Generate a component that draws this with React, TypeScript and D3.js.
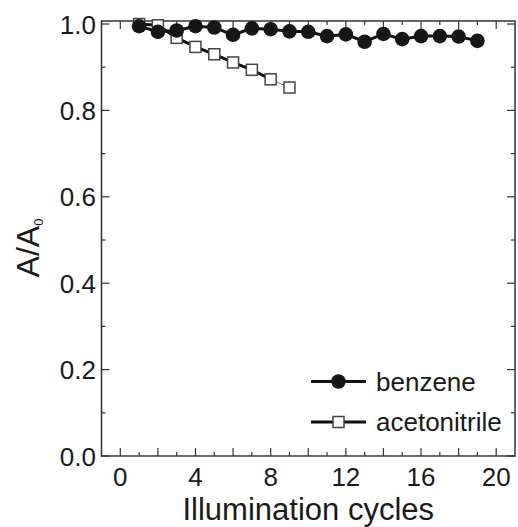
import React from "react";
import * as d3 from "d3";

const cycles = [1, 2, 3, 4, 5, 6, 7, 8, 9, 10, 11, 12, 13, 14, 15, 16, 17, 18, 19];
const benzene = [0.995, 0.982, 0.985, 0.995, 0.992, 0.975, 0.99, 0.988, 0.983, 0.982, 0.972, 0.976, 0.959, 0.977, 0.965, 0.972, 0.972, 0.971, 0.961];
const acetoCycles = [1, 2, 3, 4, 5, 6, 7, 8, 9];
const acetonitrile = [1.0, 0.997, 0.968, 0.947, 0.93, 0.911, 0.894, 0.872, 0.853];
const xTickLabels = [0, 4, 8, 12, 16, 20];
const yTickLabels = [0.0, 0.2, 0.4, 0.6, 0.8, 1.0];
const seriesNames = ["benzene", "acetonitrile"];

const W = 518;
const H = 527;
const L = 101.5;
const R = 515;
const T = 21;
const B = 456;
const FONT = "'Liberation Sans', Arial, Helvetica, sans-serif";

export default function App() {
  const x = d3.scaleLinear().domain([-1, 21]).range([L, R]);
  const y = d3.scaleLinear().domain([0, 1.007]).range([B, T]);
  const line = d3
    .line<[number, number]>()
    .x((d) => x(d[0]))
    .y((d) => y(d[1]));

  const bPts: [number, number][] = cycles.map((c, i) => [c, benzene[i]]);
  const aPts: [number, number][] = acetoCycles.map((c, i) => [c, acetonitrile[i]]);
  const aThick = aPts.slice(0, aPts.length - 1);
  const aThin = aPts.slice(aPts.length - 2);

  const xTicks = d3.range(-1, 22, 1).filter((v) => v > -1 && v < 21);
  const yTicks = d3.range(0, 11, 1).map((v) => v / 10);
  const axisColor = "#333";
  const sq = 11;

  return (
    <svg
      width={W}
      height={H}
      style={{ position: "absolute", left: 0, top: 0, background: "#fff" }}
      fontFamily={FONT}
    >
      {/* ticks */}
      {xTicks.map((v) => {
        const major = v % 2 === 0;
        const len = major ? 8 : 4;
        return (
          <g key={"xt" + v} stroke={axisColor} strokeWidth={1.2}>
            <line x1={x(v)} x2={x(v)} y1={B} y2={B - len} />
            <line x1={x(v)} x2={x(v)} y1={T} y2={T + len} />
          </g>
        );
      })}
      {yTicks.map((v, i) => {
        const major = i % 2 === 0;
        const len = major ? 8 : 4;
        return (
          <g key={"yt" + i} stroke={axisColor} strokeWidth={1.2}>
            <line x1={L} x2={L + len} y1={y(v)} y2={y(v)} />
            <line x1={R} x2={R - len} y1={y(v)} y2={y(v)} />
          </g>
        );
      })}
      <rect x={L} y={T} width={R - L} height={B - T} fill="none" stroke={axisColor} strokeWidth={1.5} />

      {/* tick labels */}
      {xTickLabels.map((v) => (
        <text key={"xl" + v} x={x(v)} y={486} textAnchor="middle" fontSize={26} fill="#1a1a1a">
          {v}
        </text>
      ))}
      {yTickLabels.map((v) => (
        <text key={"yl" + v} x={96} y={y(v) + 9.5} textAnchor="end" fontSize={26} fill="#1a1a1a">
          {v.toFixed(1)}
        </text>
      ))}

      {/* axis titles */}
      <text x={(L + R) / 2 + 0} y={520} textAnchor="middle" fontSize={31} fill="#1a1a1a">
        Illumination cycles
      </text>
      <text transform={`translate(39, 248) rotate(-90)`} textAnchor="middle" fontSize={32} fill="#1a1a1a">
        A/A<tspan fontSize={13} dy={4}>0</tspan>
      </text>

      {/* acetonitrile */}
      <path d={line(aThick) || ""} fill="none" stroke="#111" strokeWidth={3} />
      <path d={line(aThin) || ""} fill="none" stroke="#888" strokeWidth={1} />
      {aPts.map((p, i) => (
        <rect
          key={"a" + i}
          x={x(p[0]) - sq / 2}
          y={y(p[1]) - sq / 2}
          width={sq}
          height={sq}
          fill="#fff"
          stroke="#444"
          strokeWidth={1.5}
        />
      ))}

      {/* benzene */}
      <path d={line(bPts) || ""} fill="none" stroke="#111" strokeWidth={3} />
      {bPts.map((p, i) => (
        <circle key={"b" + i} cx={x(p[0])} cy={y(p[1])} r={7.3} fill="#161616" />
      ))}

      {/* legend */}
      <g>
        <line x1={311} x2={366} y1={381.5} y2={381.5} stroke="#111" strokeWidth={3} />
        <circle cx={338.5} cy={381.5} r={7.3} fill="#161616" />
        <text x={376} y={390.5} fontSize={26} fill="#1a1a1a">
          {seriesNames[0]}
        </text>
        <line x1={311} x2={366} y1={422} y2={422} stroke="#111" strokeWidth={3} />
        <rect x={338.5 - sq / 2} y={422 - sq / 2} width={sq} height={sq} fill="#fff" stroke="#444" strokeWidth={1.5} />
        <text x={376} y={431} fontSize={26} fill="#1a1a1a">
          {seriesNames[1]}
        </text>
      </g>
    </svg>
  );
}
